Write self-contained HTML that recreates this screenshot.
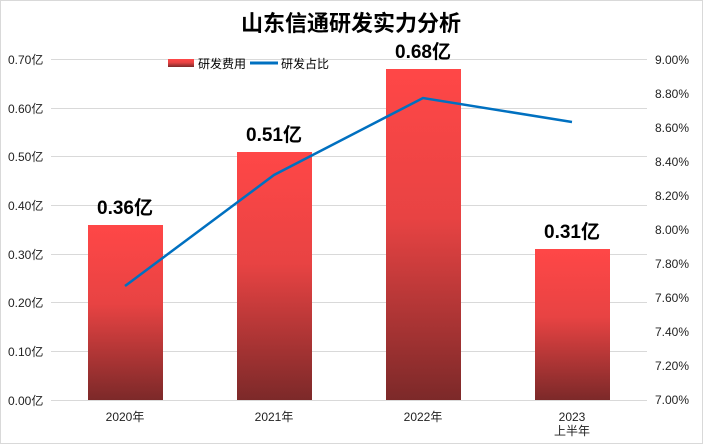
<!DOCTYPE html>
<html><head><meta charset="utf-8"><style>
html,body{margin:0;padding:0;background:#fff}
svg{display:block;font-family:"Liberation Sans","Noto Sans CJK SC",sans-serif}
</style></head><body>
<svg width="703" height="444" viewBox="0 0 703 444">
<defs>
<linearGradient id="g" x1="0" y1="0" x2="0" y2="1">
<stop offset="0" stop-color="#ff4747"/>
<stop offset="0.45" stop-color="#e84343"/>
<stop offset="1" stop-color="#7c2929"/>
</linearGradient>
<linearGradient id="gb" x1="0" y1="0" x2="0" y2="1" gradientUnits="userSpaceOnUse">
<stop offset="0" stop-color="#ff4747" />
</linearGradient>
</defs>
<rect x="0.5" y="0.5" width="702" height="443" fill="#fff" stroke="#d9d9d9"/>
<g stroke="#d9d9d9" stroke-width="1">
<line x1="51" y1="59.5" x2="647" y2="59.5"/>
<line x1="51" y1="108.5" x2="647" y2="108.5"/>
<line x1="51" y1="156.5" x2="647" y2="156.5"/>
<line x1="51" y1="205.5" x2="647" y2="205.5"/>
<line x1="51" y1="254.5" x2="647" y2="254.5"/>
<line x1="51" y1="302.5" x2="647" y2="302.5"/>
<line x1="51" y1="351.5" x2="647" y2="351.5"/>
<line x1="51" y1="400.5" x2="647" y2="400.5"/>
</g>
<text x="351" y="31" text-anchor="middle" font-size="22" font-weight="bold">山东信通研发实力分析</text>
<rect x="168" y="59" width="26" height="8" fill="url(#g)"/>
<text x="198" y="68" font-size="12">研发费用</text>
<line x1="250" y1="63" x2="278" y2="63" stroke="#0070c0" stroke-width="3"/>
<text x="281" y="68" font-size="12">研发占比</text>
<g font-size="12" fill="#222">
<text x="8" y="64">0.70亿</text><text x="8" y="113">0.60亿</text><text x="8" y="161">0.50亿</text>
<text x="8" y="210">0.40亿</text><text x="8" y="259">0.30亿</text><text x="8" y="307">0.20亿</text>
<text x="8" y="356">0.10亿</text><text x="8" y="405">0.00亿</text>
<g text-anchor="start">
<text x="655" y="64">9.00%</text><text x="655" y="98">8.80%</text><text x="655" y="132">8.60%</text>
<text x="655" y="166">8.40%</text><text x="655" y="200">8.20%</text><text x="655" y="234">8.00%</text>
<text x="655" y="268">7.80%</text><text x="655" y="302">7.60%</text><text x="655" y="336">7.40%</text>
<text x="655" y="370">7.20%</text><text x="655" y="404">7.00%</text>
</g>
<g text-anchor="middle">
<text x="125" y="421">2020年</text><text x="274" y="421">2021年</text><text x="423" y="421">2022年</text>
<text x="572" y="421">2023</text><text x="572" y="435">上半年</text>
</g>
</g>
<rect x="88" y="225" width="75" height="175" fill="url(#g)"/>
<rect x="237" y="152" width="75" height="248" fill="url(#g)"/>
<rect x="386" y="69" width="75" height="331" fill="url(#g)"/>
<rect x="535" y="249" width="75" height="151" fill="url(#g)"/>
<g font-size="19" font-weight="bold" text-anchor="middle">
<text x="125" y="214">0.36亿</text><text x="274" y="141">0.51亿</text>
<text x="423" y="58">0.68亿</text><text x="572" y="238">0.31亿</text>
</g>
<polyline points="125,286 274,175 423,98 572,122" fill="none" stroke="#0070c0" stroke-width="2.5"/>
</svg>
</body></html>
